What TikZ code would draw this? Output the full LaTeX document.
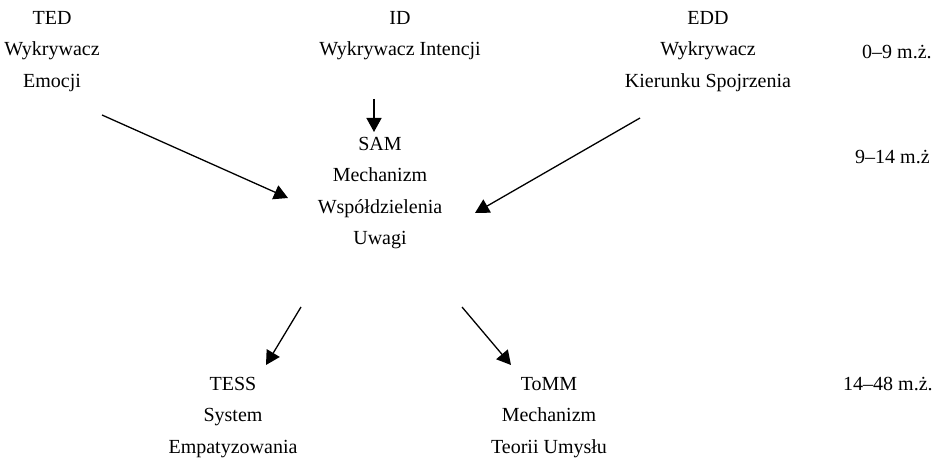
\documentclass[tikz,border=0pt]{standalone}
\usepackage{fontspec}
\setmainfont{Liberation Serif}
\usetikzlibrary{arrows.meta}
\begin{document}
\begin{tikzpicture}
[x=1pt,y=-1pt,
  darkArrow/.style={-{Triangle[length=14pt,width=15pt]},line width=1.3pt},%
  blockText/.style={anchor=north,align=center,inner sep=0pt,
    font=\fontsize{20}{31.5}\selectfont},%
  ageText/.style={anchor=west,inner sep=0pt,font=\fontsize{20}{24}\selectfont}]
\useasboundingbox (0,0) rectangle (940,468);
%% blocks of text
\foreach \nodename/\x/\y/\txt in {ted/52/11/{TED\\Wykrywacz\\Emocji},
  id/400/11/{ID\\Wykrywacz Intencji},
  edd/708/11/{EDD\\Wykrywacz\\Kierunku Spojrzenia},
  sam/380/137/{SAM\\Mechanizm\\Współdzielenia\\Uwagi},
  tess/233/377/{TESS\\System\\Empatyzowania},
  tomm/549/377/{ToMM\\Mechanizm\\Teorii Umysłu}}
{
  \node (\nodename) at (\x,\y) [blockText] {\txt};
}
%% age ranges
\foreach \nodename/\x/\y/\txt in {ageA/862/52/{0–9 m.ż.},
  ageB/855/157/{9–14 m.ż}, ageC/843/384/{14–48 m.ż.}}
{
  \node (\nodename) at (\x,\y) [ageText] {\txt};
}
%% arrow ends
\foreach \cname/\x/\y in {tedOut/102/115, samInLeft/288/198, idOut/374/99,
  samInTop/374/132, eddOut/640/118, samInRight/475/213,
  samOutLeft/301/307, tessIn/266/365, samOutRight/462/307, tommIn/511/365}
{
  \coordinate (\cname) at (\x,\y);
}
%% arrows
\path
\foreach \startnode/\endnode in {tedOut/samInLeft, idOut/samInTop,
  eddOut/samInRight, samOutLeft/tessIn, samOutRight/tommIn}
{
  (\startnode) edge[darkArrow] (\endnode)
};
\end{tikzpicture}
\end{document}
